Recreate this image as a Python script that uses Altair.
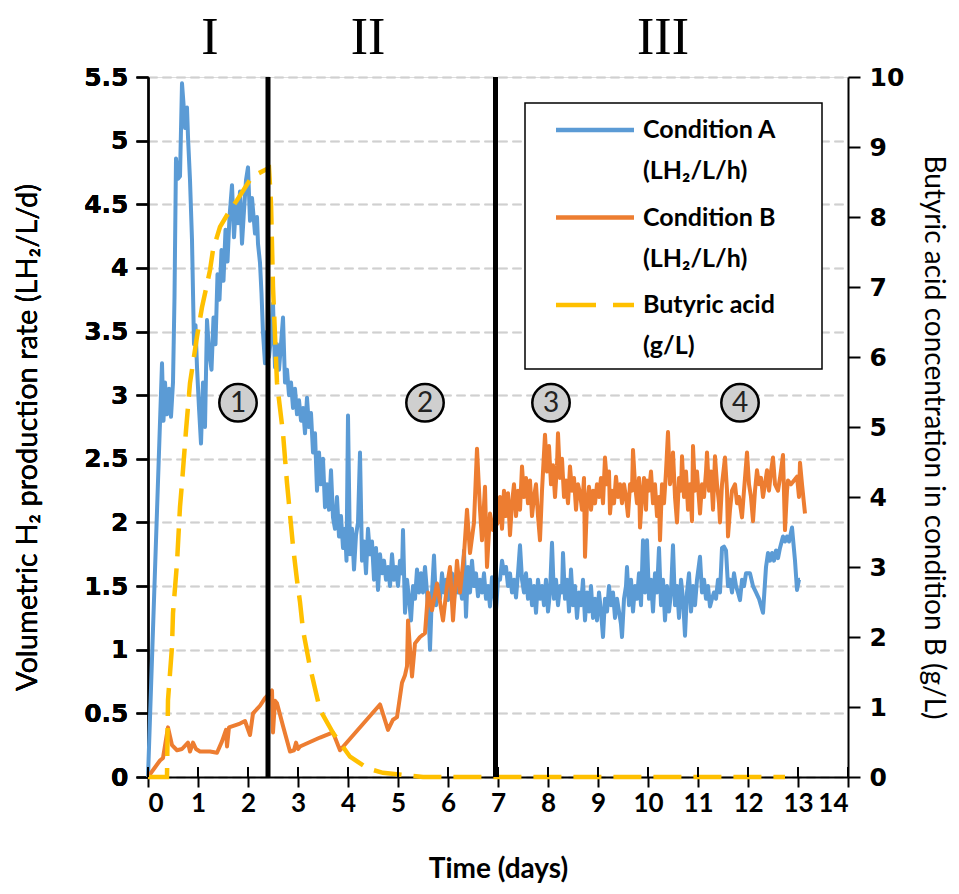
import altair as alt
import pandas as pd

# ---------------- data ----------------
A_day = [0.00, 0.28, 0.31, 0.34, 0.38, 0.42, 0.46, 0.50, 0.53, 0.56, 0.60, 0.64, 0.68, 0.71, 0.74, 0.78, 0.80, 0.84, 0.88, 0.92,
         0.95, 0.98, 1.02, 1.06, 1.10, 1.14, 1.18, 1.22, 1.27, 1.31, 1.35, 1.39, 1.43, 1.47, 1.51, 1.55, 1.59, 1.63, 1.68, 1.72,
         1.76, 1.80, 1.84, 1.88, 1.92, 1.96, 2.00, 2.04, 2.08, 2.14, 2.18, 2.20, 2.24, 2.27, 2.30, 2.34, 2.38, 2.42, 2.46, 2.50,
         2.54, 2.58, 2.62, 2.66, 2.70, 2.74, 2.78, 2.82, 2.86, 2.90, 2.94, 2.98, 3.02, 3.06, 3.10, 3.14, 3.18, 3.22, 3.26, 3.30,
         3.34, 3.38, 3.42, 3.46, 3.50, 3.54, 3.58, 3.62, 3.66, 3.70, 3.74, 3.78, 3.82, 3.86, 3.90, 3.94, 3.97, 4.00, 4.04, 4.08,
         4.12, 4.16, 4.20, 4.24, 4.28, 4.32, 4.36, 4.40, 4.44, 4.48, 4.52, 4.56, 4.60, 4.64, 4.68, 4.72, 4.76, 4.80, 4.84, 4.88,
         4.92, 4.96, 5.00, 5.04, 5.08, 5.10, 5.14, 5.18, 5.22, 5.26, 5.30, 5.34, 5.38, 5.42, 5.46, 5.50, 5.54, 5.58, 5.62, 5.64,
         5.68, 5.72, 5.76, 5.80, 5.84, 5.88, 5.92, 5.96, 6.00, 6.04, 6.08, 6.12, 6.16, 6.20, 6.24, 6.28, 6.32, 6.36, 6.40, 6.44,
         6.48, 6.52, 6.56, 6.60, 6.64, 6.68, 6.72, 6.76, 6.80, 6.84, 6.88, 6.92, 6.96, 7.00, 7.04, 7.08, 7.12, 7.16, 7.20, 7.24,
         7.28, 7.32, 7.36, 7.40, 7.44, 7.48, 7.52, 7.56, 7.60, 7.64, 7.68, 7.72, 7.76, 7.80, 7.84, 7.88, 7.92, 7.96, 8.00, 8.04,
         8.08, 8.12, 8.16, 8.20, 8.24, 8.28, 8.30, 8.34, 8.38, 8.42, 8.46, 8.50, 8.54, 8.58, 8.62, 8.66, 8.70, 8.74, 8.78, 8.82,
         8.86, 8.90, 8.94, 8.98, 9.02, 9.06, 9.10, 9.14, 9.18, 9.22, 9.26, 9.30, 9.34, 9.38, 9.42, 9.46, 9.48, 9.52, 9.56, 9.58,
         9.62, 9.66, 9.70, 9.74, 9.78, 9.82, 9.86, 9.90, 9.94, 9.98, 10.02, 10.06, 10.10, 10.14, 10.18, 10.22, 10.26, 10.30, 10.34, 10.38,
         10.42, 10.46, 10.50, 10.54, 10.58, 10.62, 10.66, 10.70, 10.74, 10.78, 10.82, 10.86, 10.90, 10.94, 10.98, 11.04, 11.08, 11.12, 11.16, 11.20,
         11.24, 11.28, 11.32, 11.36, 11.40, 11.44, 11.48, 11.52, 11.56, 11.60, 11.64, 11.68, 11.72, 11.76, 11.80, 11.84, 11.88, 11.92, 11.96, 12.04,
         12.10, 12.16, 12.22, 12.30, 12.36, 12.40, 12.44, 12.48, 12.52, 12.56, 12.60, 12.64, 12.70, 12.74, 12.78, 12.82, 12.88, 12.94, 12.98, 13.02,
         13.04]
A_val = [0.00, 3.25, 2.80, 3.10, 2.85, 3.05, 2.83, 3.10, 3.77, 4.86, 4.70, 4.72, 5.45, 5.29, 5.10, 5.26, 5.03, 4.69, 4.22, 3.40,
         3.55, 3.22, 2.90, 2.62, 3.10, 2.75, 3.59, 3.35, 3.20, 3.61, 3.40, 3.95, 3.75, 4.14, 3.90, 4.30, 4.05, 4.40, 4.65, 4.24,
         4.50, 4.35, 4.60, 4.19, 4.45, 4.69, 4.79, 4.37, 4.55, 4.27, 4.40, 4.19, 4.04, 3.80, 3.49, 3.25, 3.50, 3.30, 3.45, 3.72,
         3.22, 3.40, 3.20, 3.40, 3.61, 3.10, 3.20, 3.00, 3.10, 2.90, 3.05, 2.85, 2.96, 2.80, 2.90, 2.70, 2.98, 2.75, 2.86, 2.55,
         2.70, 2.25, 2.55, 2.30, 2.50, 2.12, 2.30, 2.10, 2.41, 2.04, 1.95, 2.20, 1.89, 2.05, 1.80, 1.95, 1.70, 2.84, 1.75, 1.95,
         1.63, 1.90, 2.00, 2.55, 1.70, 1.85, 1.60, 1.95, 1.75, 1.85, 1.55, 1.80, 1.47, 1.75, 1.60, 1.70, 1.55, 1.65, 1.50, 1.75,
         1.55, 1.65, 1.50, 1.70, 1.60, 1.94, 1.29, 1.55, 1.40, 1.23, 1.50, 1.40, 1.63, 1.45, 1.60, 1.45, 1.65, 1.45, 1.20, 1.00,
         1.45, 1.74, 1.35, 1.50, 1.40, 1.60, 1.45, 1.55, 1.39, 1.50, 1.60, 1.40, 1.55, 1.45, 1.52, 1.40, 1.78, 1.26, 1.65, 1.45,
         1.70, 1.50, 1.60, 1.42, 1.55, 1.45, 1.60, 1.40, 1.50, 1.34, 1.57, 1.45, 1.31, 1.55, 1.55, 1.70, 1.60, 1.65, 1.50, 1.60,
         1.45, 1.55, 1.41, 1.60, 1.82, 1.55, 1.45, 1.60, 1.40, 1.55, 1.35, 1.50, 1.29, 1.55, 1.40, 1.50, 1.35, 1.55, 1.30, 1.45,
         1.84, 1.40, 1.55, 1.35, 1.50, 1.45, 1.76, 1.40, 1.55, 1.30, 1.63, 1.35, 1.50, 1.25, 1.45, 1.35, 1.55, 1.23, 1.45, 1.30,
         1.50, 1.25, 1.40, 1.23, 1.45, 1.30, 1.10, 1.40, 1.30, 1.50, 1.35, 1.45, 1.25, 1.40, 1.30, 1.20, 1.10, 1.40, 1.50, 1.65,
         1.35, 1.55, 1.30, 1.50, 1.40, 1.60, 1.35, 1.86, 1.45, 1.86, 1.40, 1.55, 1.30, 1.60, 1.45, 1.80, 1.35, 1.55, 1.23, 1.50,
         1.30, 1.45, 1.82, 1.35, 1.50, 1.25, 1.55, 1.40, 1.11, 1.45, 1.60, 1.30, 1.50, 1.35, 1.55, 1.73, 1.45, 1.55, 1.40, 1.50,
         1.34, 1.40, 1.45, 1.40, 1.55, 1.45, 1.80, 1.81, 1.78, 1.50, 1.55, 1.45, 1.60, 1.50, 1.45, 1.39, 1.55, 1.50, 1.60, 1.60,
         1.50, 1.45, 1.40, 1.29, 1.65, 1.76, 1.70, 1.76, 1.70, 1.78, 1.72, 1.80, 1.89, 1.85, 1.89, 1.85, 1.96, 1.70, 1.47, 1.55,
         1.55]

B_day = [0.00, 0.24, 0.30, 0.40, 0.48, 0.58, 0.68, 0.80, 0.84, 0.90, 0.96, 1.04, 1.24, 1.38, 1.48, 1.56, 1.58, 1.62, 1.84, 1.94,
         2.04, 2.10, 2.24, 2.34, 2.44, 2.48, 2.50, 2.54, 2.58, 2.70, 2.84, 2.92, 2.96, 3.00, 3.04, 3.44, 3.70, 3.84, 4.64, 4.80,
         4.90, 4.98, 5.08, 5.14, 5.18, 5.20, 5.28, 5.34, 5.44, 5.54, 5.60, 5.68, 5.78, 5.90, 5.98, 6.04, 6.10, 6.18, 6.24, 6.32,
         6.38, 6.44, 6.52, 6.58, 6.64, 6.68, 6.74, 6.78, 6.84, 6.90, 7.00, 7.04, 7.08, 7.12, 7.16, 7.20, 7.24, 7.28, 7.32, 7.36,
         7.40, 7.44, 7.48, 7.52, 7.56, 7.60, 7.64, 7.68, 7.72, 7.76, 7.80, 7.84, 7.88, 7.94, 7.98, 8.02, 8.06, 8.10, 8.14, 8.18,
         8.20, 8.24, 8.28, 8.32, 8.36, 8.40, 8.44, 8.48, 8.52, 8.56, 8.60, 8.64, 8.68, 8.72, 8.74, 8.78, 8.82, 8.86, 8.90, 8.94,
         8.98, 9.02, 9.06, 9.10, 9.14, 9.18, 9.22, 9.24, 9.28, 9.32, 9.36, 9.40, 9.44, 9.48, 9.52, 9.56, 9.60, 9.64, 9.68, 9.70,
         9.74, 9.78, 9.82, 9.84, 9.88, 9.92, 9.96, 9.98, 10.02, 10.06, 10.10, 10.14, 10.18, 10.22, 10.24, 10.28, 10.32, 10.36, 10.40, 10.44,
         10.48, 10.50, 10.54, 10.58, 10.62, 10.66, 10.68, 10.72, 10.76, 10.80, 10.84, 10.88, 10.90, 10.94, 10.98, 11.04, 11.08, 11.12, 11.16, 11.18,
         11.22, 11.26, 11.30, 11.34, 11.38, 11.42, 11.44, 11.48, 11.54, 11.58, 11.60, 11.64, 11.68, 11.74, 11.78, 11.82, 11.88, 11.92, 11.98, 12.02,
         12.06, 12.10, 12.14, 12.18, 12.22, 12.26, 12.30, 12.34, 12.38, 12.42, 12.46, 12.50, 12.54, 12.60, 12.64, 12.70, 12.74, 12.78, 12.80, 12.86,
         12.92, 12.98, 13.02, 13.04, 13.08, 13.14]
B_val = [0.00, 0.13, 0.15, 0.39, 0.25, 0.21, 0.22, 0.27, 0.20, 0.27, 0.22, 0.20, 0.20, 0.19, 0.28, 0.37, 0.24, 0.39, 0.42, 0.44,
         0.33, 0.50, 0.56, 0.62, 0.66, 0.68, 0.35, 0.60, 0.58, 0.40, 0.20, 0.21, 0.27, 0.22, 0.24, 0.31, 0.35, 0.21, 0.57, 0.37,
         0.45, 0.47, 0.74, 0.80, 0.87, 1.23, 0.79, 1.05, 1.10, 1.13, 1.45, 1.31, 1.52, 1.23, 1.50, 1.65, 1.23, 1.70, 1.45, 1.75,
         2.10, 1.76, 2.00, 2.58, 2.10, 1.86, 2.28, 1.65, 2.07, 1.94, 2.00, 2.20, 1.95, 2.25, 2.05, 2.23, 1.90, 2.15, 2.30, 2.05,
         2.25, 2.10, 2.44, 2.20, 2.35, 2.15, 2.33, 2.05, 2.20, 2.30, 2.05, 1.86, 2.25, 2.69, 2.40, 2.60, 2.30, 2.45, 2.20, 2.45,
         2.70, 2.35, 2.50, 2.20, 2.33, 2.15, 2.44, 2.25, 2.35, 2.10, 2.30, 2.23, 2.10, 2.35, 1.73, 2.15, 2.28, 2.10, 2.25, 2.15,
         2.30, 2.20, 2.35, 2.15, 2.51, 2.30, 2.40, 2.07, 2.25, 2.15, 2.36, 2.20, 2.30, 2.15, 2.30, 2.20, 2.05, 2.30, 2.25, 2.57,
         2.30, 2.15, 2.35, 1.96, 2.20, 2.35, 2.10, 2.33, 2.25, 2.40, 2.15, 2.30, 2.05, 2.20, 1.86, 2.30, 2.15, 2.40, 2.71, 2.30,
         2.40, 2.55, 2.20, 2.00, 2.35, 2.25, 2.52, 2.20, 2.40, 2.10, 2.30, 2.01, 2.60, 2.25, 2.40, 2.07, 2.30, 2.20, 2.40, 2.55,
         2.25, 2.40, 2.10, 2.52, 2.30, 2.15, 2.00, 2.30, 2.51, 2.25, 1.89, 2.10, 2.25, 2.30, 2.15, 2.20, 2.04, 2.25, 2.55, 2.30,
         2.20, 2.01, 2.25, 2.41, 2.30, 2.35, 2.20, 2.30, 2.41, 2.25, 2.40, 2.51, 2.30, 2.25, 2.35, 2.53, 1.94, 2.25, 2.33, 2.30,
         2.33, 2.36, 2.20, 2.47, 2.30, 2.07]

BA_day = [0.00, 0.38, 0.40, 0.48, 0.50, 0.58, 0.64, 0.68, 0.76, 0.84, 0.98, 1.08, 1.24, 1.30, 1.44, 1.60, 1.78, 2.04, 2.20, 2.34,
          2.42, 2.46, 2.50, 2.58, 2.70, 2.78, 2.90, 2.98, 3.04, 3.10, 3.24, 3.44, 3.70, 4.04, 4.40, 4.70, 5.10, 5.50, 12.74]
BA_val = [0.00, 0.00, 1.10, 1.86, 2.34, 3.06, 3.86, 4.20, 4.95, 5.63, 6.29, 6.71, 7.24, 7.53, 7.86, 8.05, 8.24, 8.53, 8.62, 8.67,
          8.70, 8.20, 7.00, 5.63, 4.91, 4.20, 3.30, 2.81, 2.50, 2.10, 1.57, 0.96, 0.63, 0.29, 0.12, 0.06, 0.03, 0.00, 0.00]

X_TICKS = list(range(0, 15))
YL_TICKS = [0, 0.5, 1, 1.5, 2, 2.5, 3, 3.5, 4, 4.5, 5, 5.5]
YR_TICKS = list(range(0, 11))

PHASE_DAYS = [2.4, 6.95]
ROMAN = ["I", "II", "III"]
ROMAN_DAYS = [1.24, 4.4, 10.3]
STAGE_LABELS = ["1", "2", "3", "4"]
STAGE_DAYS = [1.8, 5.54, 8.06, 11.84]
STAGE_LEVEL = [2.94, 2.94, 2.94, 2.94]

LEGEND_NAMES = ["Condition A", "Condition B", "Butyric acid"]
LEGEND_UNITS = ["(LH\u2082/L/h)", "(LH\u2082/L/h)", "(g/L)"]
BLUE, ORANGE, YELLOW = "#5b9bd5", "#ed7d31", "#ffc000"
LEGEND_COLORS = [BLUE, ORANGE, YELLOW]

W, H = 700, 700

dfA = pd.DataFrame({"day": A_day, "v": A_val})
dfB = pd.DataFrame({"day": B_day, "v": B_val})
dfBA = pd.DataFrame({"day": BA_day, "v": BA_val})
one = pd.DataFrame({"k": [0]})

xs = alt.Scale(domain=[0, 14], nice=False, zero=False)
x_axis = alt.Axis(values=X_TICKS, format="d", title="Time (days)", grid=False,
                  domainColor="black", domainWidth=2, tickColor="black", tickWidth=2, tickSize=10,
                  labelFont="Lato", labelFontWeight="bold", labelFontSize=26, labelColor="black",
                  labelPadding=3, titleFont="Lato", titleFontWeight="bold", titleFontSize=28,
                  titleColor="black", titleX=W / 2, titleY=92, titleBaseline="middle")
X = alt.X("day:Q", scale=xs, axis=x_axis)

ysL = alt.Scale(domain=[0, 5.5], nice=False)
ysR = alt.Scale(domain=[0, 10], nice=False)

yL_axis = alt.Axis(values=YL_TICKS, format="~g", orient="left",
                   title="Volumetric H\u2082 production rate (LH\u2082/L/d)",
                   grid=True, gridColor="#d0d0d0", gridDash=[9, 5], gridWidth=1.5,
                   domainColor="black", domainWidth=2, tickColor="black", tickWidth=2, tickSize=12,
                   labelFont="DejaVu Sans", labelFontWeight="bold", labelFontSize=25, labelColor="black",
                   labelPadding=8, titleFont="Lato", titleFontWeight="normal", titleFontSize=29,
                   titleColor="black", titleAngle=-90, titleX=-121, titleY=360,
                   titleBaseline="middle", titleAlign="center")
yR_axis = alt.Axis(values=YR_TICKS, format="d", orient="right",
                   title="Butyric acid concentration in condition B (g/L)", grid=False,
                   domainColor="black", domainWidth=2, tickColor="black", tickWidth=2, tickSize=12,
                   labelFont="DejaVu Sans", labelFontWeight="bold", labelFontSize=25, labelColor="black",
                   labelPadding=9, titleFont="Lato", titleFontWeight="normal", titleFontSize=28,
                   titleColor="black", titleAngle=90, titleX=84, titleY=360,
                   titleBaseline="middle", titleAlign="center")

lineA = alt.Chart(dfA).mark_line(color=BLUE, strokeWidth=4, strokeJoin="round").encode(
    x=X, y=alt.Y("v:Q", scale=ysL, axis=yL_axis), order="day:Q")
lineB = alt.Chart(dfB).mark_line(color=ORANGE, strokeWidth=4, strokeJoin="round").encode(
    x=X, y=alt.Y("v:Q", scale=ysL, axis=yL_axis), order="day:Q")

stage_df = pd.DataFrame({"day": STAGE_DAYS, "v": STAGE_LEVEL, "t": STAGE_LABELS})
stage_pts = alt.Chart(stage_df).mark_point(shape="circle", filled=False, fill="#cfcfcf", fillOpacity=1,
                                           stroke="black", strokeWidth=2.5, size=1400, opacity=1).encode(
    x=X, y=alt.Y("v:Q", scale=ysL, axis=yL_axis))
stage_txt = alt.Chart(stage_df).mark_text(font="Lato", fontSize=28, color="#222222",
                                          baseline="middle", align="center", dy=1).encode(
    x=X, y=alt.Y("v:Q", scale=ysL, axis=yL_axis), text="t:N")

left = alt.layer(lineA, lineB)

lineBA = alt.Chart(dfBA).mark_line(color=YELLOW, strokeWidth=4.5, strokeDash=[28, 12]).encode(
    x=X, y=alt.Y("v:Q", scale=ysR, axis=yR_axis), order="day:Q")

base = alt.layer(left, lineBA).resolve_scale(y="independent")

# upward half of the crossing x ticks
xt = alt.Chart(pd.DataFrame({"day": X_TICKS})).mark_rule(color="black", strokeWidth=2).encode(
    x=X, y=alt.value(H - 10), y2=alt.value(H))

phase = alt.Chart(pd.DataFrame({"day": PHASE_DAYS})).mark_rule(color="black", strokeWidth=5).encode(x=X)

roman = alt.Chart(pd.DataFrame({"day": ROMAN_DAYS, "t": ROMAN})).mark_text(
    font="Liberation Serif", fontSize=52, color="black", baseline="middle", align="center").encode(
    x=X, y=alt.value(-39), text="t:N")

# legend (drawn manually)
leg = [alt.Chart(one).mark_rect(fill="white", stroke="black", strokeWidth=1.5).encode(
    x=alt.value(377), x2=alt.value(674), y=alt.value(26), y2=alt.value(292))]
for i in range(3):
    ry = 53 + i * 87.5
    dash = [40, 17] if i == 2 else [1, 0]
    leg.append(alt.Chart(one).mark_rule(color=LEGEND_COLORS[i], strokeWidth=4.5, strokeDash=dash).encode(
        x=alt.value(408), x2=alt.value(486), y=alt.value(ry)))
    leg.append(alt.Chart(one).mark_text(font="Lato", fontWeight="bold", fontSize=25, color="black",
                                        align="left", baseline="middle").encode(
        x=alt.value(495), y=alt.value(ry), text=alt.value(LEGEND_NAMES[i])))
    leg.append(alt.Chart(one).mark_text(font="Lato", fontWeight="bold", fontSize=25, color="black",
                                        align="left", baseline="middle").encode(
        x=alt.value(495), y=alt.value(ry + 41), text=alt.value(LEGEND_UNITS[i])))

chart = alt.layer(base, xt, phase, stage_pts, stage_txt, roman, *leg).properties(
    width=W, height=H,
    autosize=alt.AutoSizeParams(type="none"),
    padding={"left": 140, "top": 69, "right": 103, "bottom": 108},
).configure_view(stroke=None).configure(background="white")

chart.save("out.html", embed_options={"renderer": "svg", "actions": False})
